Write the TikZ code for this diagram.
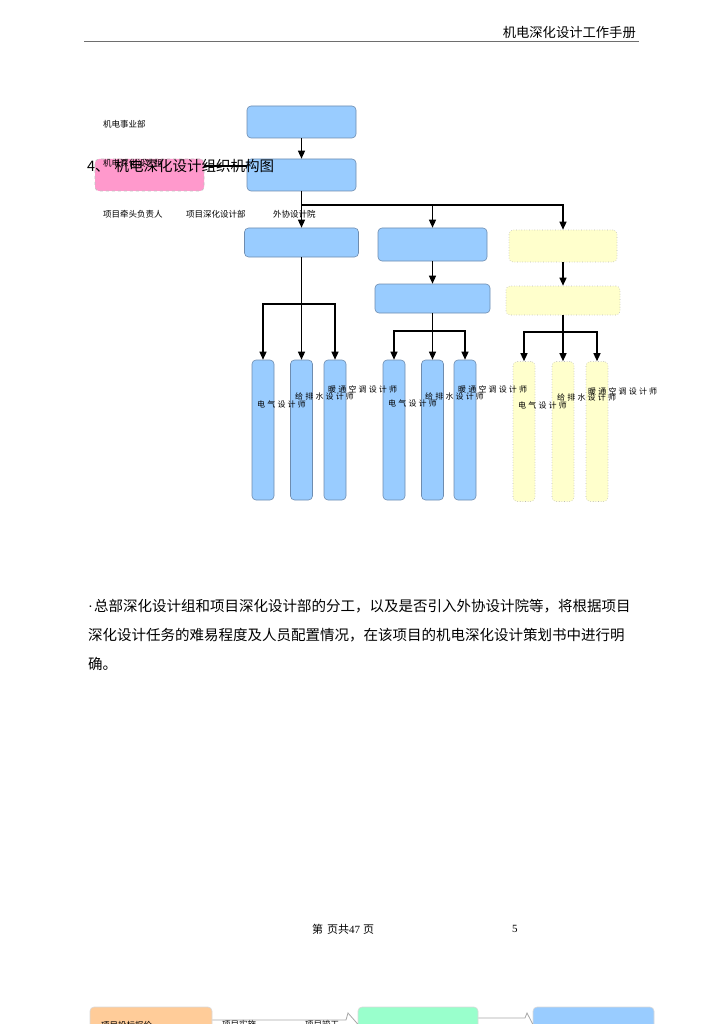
\documentclass[tikz,border=0pt]{standalone}
\usepackage{fontspec}
\setmainfont{Liberation Serif}
\newfontfamily\cjk{Noto Sans CJK SC}
\newfontfamily\cjksp{Noto Sans CJK SC}[LetterSpace=27]
\usetikzlibrary{arrows.meta}
\definecolor{sky}{RGB}{153,204,255}
\definecolor{skyline}{RGB}{110,140,175}
\definecolor{rose}{RGB}{255,153,204}
\definecolor{cream}{RGB}{255,255,204}
\definecolor{peach}{RGB}{255,204,153}
\definecolor{mint}{RGB}{153,255,204}
\definecolor{rulegray}{RGB}{110,110,110}
\tikzset{
  >={Triangle[length=8pt,width=7pt]},
  box/.style={draw=skyline,fill=#1,rounded corners=4pt,line width=0.6pt,
    minimum width=109pt,minimum height=32pt,inner sep=0pt},
  box/.default=sky,
  pale/.style={box=#1,draw=gray!55,dotted},
  pale/.default=cream,
  col/.style={box=#1,minimum width=22pt,minimum height=140pt},
  col/.default=sky,
  pcol/.style={col=cream,draw=gray!55,dotted},
  flow/.style={->,line width=1.3pt},
  wire/.style={line width=1.3pt},
  tag/.style={font=\cjk\fontsize{8.5}{10}\selectfont,anchor=west,inner sep=0pt},
  role/.style={font=\cjksp\fontsize{8}{10}\selectfont,anchor=west,inner sep=0pt},
  body/.style={font=\cjk\fontsize{14.5}{17}\selectfont,anchor=west,inner sep=0pt},
}
\begin{document}
\begin{tikzpicture}[x=1pt,y=-1pt]
  \useasboundingbox (0,0) rectangle (724,1024);
  \clip (0,0) rectangle (724,1024);
  % page header
  \node[font=\cjk\fontsize{13.3}{15}\selectfont,anchor=east,inner sep=0pt] (head) at (636,32) {机电深化设计工作手册};
  \draw[rulegray,line width=0.8pt] (84,41) -- (639,41);
  % top of the chart
  \node[box] (bu) at (301.5,122) {};
  \node[box] (dept) at (301.5,175) {};
  \node[box=rose,draw=gray!50,dashed] (grp) at (149.5,175) {};
  \node[tag] (lbu) at (103,124) {机电事业部};
  \node[tag] (lgrp) at (103,163) {机电深化设计组};
  \node[tag] (llead) at (103,214) {项目牵头负责人};
  \node[tag] (lproj) at (186,214) {项目深化设计部};
  \node[tag] (lext) at (273,214) {外协设计院};
  \draw[flow] (bu) -- (dept);
  \draw[wire] ([yshift=9pt]grp.east) -- ([yshift=9pt]dept.west);
  \node[font=\cjk\fontsize{14.5}{16}\selectfont,anchor=west,inner sep=0pt] (title) at (87,166) {4、\hspace{5pt}机电深化设计组织机构图};
  % second level
  \node[box,minimum width=114pt,minimum height=29pt] (hq) at (301.5,242.5) {};
  \node[box,minimum height=33pt] (proj) at (432.5,244.5) {};
  \node[pale,minimum width=108pt] (ext) at (563,246) {};
  \node[box,minimum width=115pt,minimum height=29pt] (projsub) at (432.5,298.5) {};
  \node[pale,minimum width=114pt,minimum height=29pt] (extsub) at (563,300.5) {};
  \coordinate (split) at (301.5,205);
  \draw[flow] (dept) -- (hq);
  \draw[flow] (split) -| (ext);
  \draw[flow] (split -| proj) -- (proj);
  \draw[flow] (proj) -- (projsub);
  \draw[flow] (ext) -- (extsub);
  % designers
  \foreach \g/\lead/\bus/\xa/\xb/\xc/\yy/\sty in {1/hq/304/263/301.5/335/430/col,2/projsub/331/394/432.5/465/430/col,3/extsub/332/524/563/597/431.5/pcol}{
    \node[\sty] (c\g a) at (\xa,\yy) {};
    \node[\sty] (c\g b) at (\xb,\yy) {};
    \node[\sty] (c\g c) at (\xc,\yy) {};
    \coordinate (bus\g) at (\xb,\bus);
    \draw[wire] (\lead) -- (bus\g);
    \draw[flow] (bus\g) -| (c\g a);
    \draw[flow] (bus\g) -- (c\g b);
    \draw[flow] (bus\g) -| (c\g c);
  }
  \foreach \g/\xa/\ya/\xb/\yb/\xc/\yc in {1/257/404/295/396/328/389,2/388/403/425/396/458/389,3/518/405/557/397/588/391}{
    \node[role] (r\g a) at (\xa,\ya) {电气设计师};
    \node[role] (r\g b) at (\xb,\yb) {给排水设计师};
    \node[role] (r\g c) at (\xc,\yc) {暖通空调设计师};
  }
  % note below the chart
  \node[body] (p1) at (88,606) {{\rmfamily\textperiodcentered}\hspace{1pt}总部深化设计组和项目深化设计部的分工，以及是否引入外协设计院等，将根据项目};
  \node[body] (p2) at (88,635) {深化设计任务的难易程度及人员配置情况，在该项目的机电深化设计策划书中进行明};
  \node[body] (p3) at (88,664) {确。};
  % page footer
  \node[font=\fontsize{11}{13}\selectfont,anchor=west,inner sep=0pt] (foot) at (312,929) {{\cjk 第\hspace{4pt}页共}47\hspace{3pt}{\cjk 页}};
  \node[font=\fontsize{11}{13}\selectfont,anchor=west,inner sep=0pt] (pno) at (512,929) {5};
  % next chart, cut by the page
  \node[box=peach,draw=gray!30,minimum width=122pt,minimum height=34pt] (bid) at (151,1024) {};
  \node[box=mint,draw=gray!30,minimum width=120pt,minimum height=34pt] (build) at (418,1024) {};
  \node[box=sky,draw=gray!30,minimum width=121pt,minimum height=34pt] (done) at (593.5,1024) {};
  \node[tag] (lbid) at (101,1025) {项目投标报价};
  \node[tag] (lrun) at (222,1024) {项目实施};
  \node[tag] (lend) at (305,1024) {项目竣工};
  \coordinate (k1) at (346,1020);
  \coordinate (k2) at (348,1013);
  \coordinate (k3) at (525,1018);
  \coordinate (k4) at (527,1013);
  \draw[gray!70,line width=0.8pt] (bid.east |- k1) -- (k1) -- (k2) -- (build.west);
  \draw[gray!70,line width=0.8pt] (build.east |- k3) -- (k3) -- (k4) -- (done.west);
\end{tikzpicture}
\end{document}
